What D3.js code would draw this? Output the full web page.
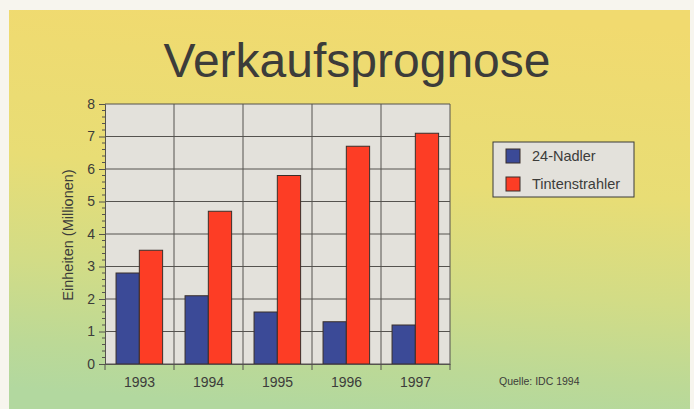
<!DOCTYPE html>
<html>
<head>
<meta charset="utf-8">
<script src="https://cdn.jsdelivr.net/npm/d3@7"></script>
<style>
  body { margin: 0; background: #f7f5ee; }
  svg { display: block; }
</style>
</head>
<body>
<div id="chart"></div>
<script>
'use strict';

const years = ['1993', '1994', '1995', '1996', '1997'];
const series = ['24-Nadler', 'Tintenstrahler'];
const nadler = [2.8, 2.1, 1.6, 1.3, 1.2];
const tinte = [3.5, 4.7, 5.8, 6.7, 7.1];
const yTicks = [0, 1, 2, 3, 4, 5, 6, 7, 8];
const colors = ['#3b4a97', '#fd3d25'];

const W = 694, H = 409;
const font = 'Liberation Sans, Arial, Helvetica, sans-serif';

const svg = d3.select('#chart').append('svg')
  .attr('width', W).attr('height', H);

const defs = svg.append('defs');
const grad = defs.append('linearGradient').attr('id', 'bg')
  .attr('x1', 0.56).attr('y1', 0).attr('x2', 0.44).attr('y2', 1);
grad.append('stop').attr('offset', '0%').attr('stop-color', '#f1da6f');
grad.append('stop').attr('offset', '42%').attr('stop-color', '#e8dd75');
grad.append('stop').attr('offset', '68%').attr('stop-color', '#d2dc86');
grad.append('stop').attr('offset', '88%').attr('stop-color', '#bcd996');
grad.append('stop').attr('offset', '100%').attr('stop-color', '#b2d89f');

svg.append('rect')
  .attr('x', 9).attr('y', 10)
  .attr('width', 681).attr('height', H - 10)
  .style('fill', 'url(#bg)');

// title
svg.append('text')
  .text('Verkaufsprognose')
  .attr('x', 357).attr('y', 77)
  .attr('text-anchor', 'middle')
  .style('font-family', font)
  .style('font-size', '48px')
  .style('fill', '#3c3c3a');

const m = {left: 105, top: 104, right: 450, bottom: 364};

const x = d3.scaleBand().domain(years).range([m.left, m.right]);
const bw = x.bandwidth();
const xs = d3.scaleBand().domain(series).range([bw * 0.16, bw * 0.835]);
const y = d3.scaleLinear().domain([0, 8]).range([m.bottom, m.top]);

const plot = svg.append('g');
plot.append('rect')
  .attr('x', m.left).attr('y', m.top)
  .attr('width', m.right - m.left).attr('height', m.bottom - m.top)
  .style('fill', '#e3e1db');

// grid
plot.selectAll('.hgrid')
  .data(yTicks)
  .enter().append('line')
  .attr('x1', m.left).attr('x2', m.right)
  .attr('y1', d => y(d)).attr('y2', d => y(d))
  .style('stroke', '#55534f').style('stroke-width', 1);
plot.selectAll('.vgrid')
  .data(years.slice(1).concat(['end']))
  .enter().append('line')
  .attr('x1', d => d === 'end' ? m.right : x(d))
  .attr('x2', d => d === 'end' ? m.right : x(d))
  .attr('y1', m.top).attr('y2', m.bottom)
  .style('stroke', '#55534f').style('stroke-width', 1);

// bars
const data = years.map((yr, i) => ({year: yr, vals: [nadler[i], tinte[i]]}));
const groups = plot.selectAll('.grp')
  .data(data)
  .enter().append('g')
  .attr('transform', d => `translate(${x(d.year)},0)`);
groups.selectAll('rect')
  .data(d => d.vals.map((v, j) => ({s: series[j], v: v, c: colors[j]})))
  .enter().append('rect')
  .attr('x', d => xs(d.s))
  .attr('y', d => y(d.v))
  .attr('width', xs.bandwidth())
  .attr('height', d => y(0) - y(d.v))
  .style('fill', d => d.c)
  .style('stroke', '#3a2f2a')
  .style('stroke-width', 1);

// y axis
const yAxis = svg.append('g')
  .attr('transform', `translate(${m.left},0)`)
  .call(d3.axisLeft(y).tickValues(yTicks).tickSize(6).tickPadding(4).tickFormat(d3.format('d')));
const minor = d3.range(0, 8.001, 0.2).filter(v => Math.abs(v - Math.round(v)) > 0.01);
svg.append('g').selectAll('line')
  .data(minor)
  .enter().append('line')
  .attr('x1', m.left - 3).attr('x2', m.left)
  .attr('y1', d => y(d)).attr('y2', d => y(d))
  .style('stroke', '#55534f');

// x axis
const xAxis = svg.append('g')
  .attr('transform', `translate(0,${m.bottom})`)
  .call(d3.axisBottom(x).tickSize(0).tickPadding(13));
svg.append('g').selectAll('line')
  .data(years.concat(['end']))
  .enter().append('line')
  .attr('x1', d => d === 'end' ? m.right : x(d))
  .attr('x2', d => d === 'end' ? m.right : x(d))
  .attr('y1', m.bottom).attr('y2', m.bottom + 6)
  .style('stroke', '#55534f');

[yAxis, xAxis].forEach(a => {
  a.select('.domain').style('stroke', '#55534f');
  a.selectAll('.tick line').style('stroke', '#55534f');
  a.selectAll('text')
    .style('font-family', font)
    .style('font-size', '14px')
    .style('fill', '#3c3c3a');
});

svg.append('text')
  .text('Einheiten (Millionen)')
  .attr('transform', `translate(73,${(m.top + m.bottom) / 2 + 1}) rotate(-90)`)
  .attr('text-anchor', 'middle')
  .style('font-family', font)
  .style('font-size', '14.5px')
  .style('fill', '#3c3c3a');

// legend
const legend = svg.append('g').attr('transform', 'translate(493,142)');
legend.append('rect')
  .attr('width', 141).attr('height', 55)
  .style('fill', '#e3e1db')
  .style('stroke', '#3a3a38');
const items = legend.selectAll('.item')
  .data(series)
  .enter().append('g')
  .attr('transform', (d, i) => `translate(13,${7 + i * 28})`);
items.append('rect')
  .attr('width', 14).attr('height', 14)
  .style('fill', (d, i) => colors[i])
  .style('stroke', '#3a2f2a');
items.append('text')
  .text(d => d)
  .attr('x', 26).attr('y', 12)
  .style('font-family', font)
  .style('font-size', '14.5px')
  .style('fill', '#3c3c3a');

svg.append('text')
  .text('Quelle: IDC 1994')
  .attr('x', 499).attr('y', 385)
  .style('font-family', font)
  .style('font-size', '10.5px')
  .style('fill', '#3c3c3a');
</script>
</body>
</html>
